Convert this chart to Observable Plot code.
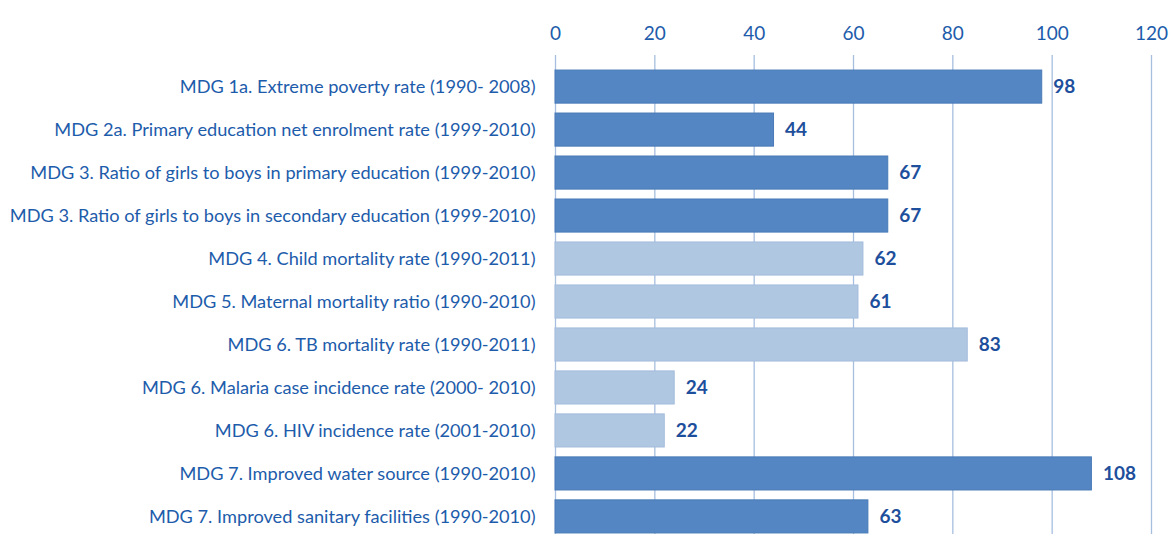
<!DOCTYPE html>
<html>
<head>
<meta charset="utf-8">
<script src="https://cdn.jsdelivr.net/npm/d3@7"></script>
<script src="https://cdn.jsdelivr.net/npm/@observablehq/plot@0.6"></script>
<style>
html, body { margin: 0; padding: 0; background: #fff; overflow: hidden; }
#chart svg { display: block; }
</style>
</head>
<body>
<div id="chart"></div>
<script>
const categories = [
  "MDG 1a. Extreme poverty rate (1990- 2008)",
  "MDG 2a. Primary education net enrolment rate (1999-2010)",
  "MDG 3. Ratio of girls to boys in primary education (1999-2010)",
  "MDG 3. Ratio of girls to boys in secondary education (1999-2010)",
  "MDG 4. Child mortality rate (1990-2011)",
  "MDG 5. Maternal mortality ratio (1990-2010)",
  "MDG 6. TB mortality rate (1990-2011)",
  "MDG 6. Malaria case incidence rate (2000- 2010)",
  "MDG 6. HIV incidence rate (2001-2010)",
  "MDG 7. Improved water source (1990-2010)",
  "MDG 7. Improved sanitary facilities (1990-2010)"
];
const values = [98, 44, 67, 67, 62, 61, 83, 24, 22, 108, 63];
const groups = ["dark", "dark", "dark", "dark", "light", "light", "light", "light", "light", "dark", "dark"];
const xTicks = [0, 20, 40, 60, 80, 100, 120];

const data = categories.map((c, i) => ({category: c, value: values[i], group: groups[i]}));

const textColor = "#1d5cab";
const valueColor = "#1e4f9c";
const fillColor = {dark: "#5386c2", light: "#b0c7e2"};
const strokeColor = {dark: "#4a7bb7", light: "#a3bcdc"};
const font = "Lato, 'Open Sans', sans-serif";

const chart = Plot.plot({
  width: 1172,
  height: 548,
  marginLeft: 555,
  marginRight: 21,
  marginTop: 55,
  marginBottom: 0,
  style: {fontFamily: font, fontSize: "18.2px", color: textColor, background: "#fff"},
  x: {domain: [0, 120], axis: null},
  y: {domain: categories, paddingInner: 0.23, paddingOuter: 0.35, round: false, axis: null},
  marks: [
    Plot.ruleX(xTicks, {stroke: "#a7bfdf", strokeWidth: 1.3}),
    Plot.barX(data, {y: "category", x: "value", fill: d => fillColor[d.group], stroke: d => strokeColor[d.group], strokeWidth: 1}),
    Plot.text(data, {y: "category", x: "value", text: d => String(d.value), textAnchor: "start", dx: 11, fill: valueColor, fontWeight: "bold", fontSize: 19}),
    Plot.axisX(xTicks, {anchor: "top", tickSize: 0, tickPadding: 16, fill: textColor, fontSize: 19, label: null}),
    Plot.axisY({anchor: "left", tickSize: 0, tickPadding: 20, fill: textColor, fontSize: 18.2, label: null})
  ]
});
document.getElementById("chart").appendChild(chart);
</script>
</body>
</html>
